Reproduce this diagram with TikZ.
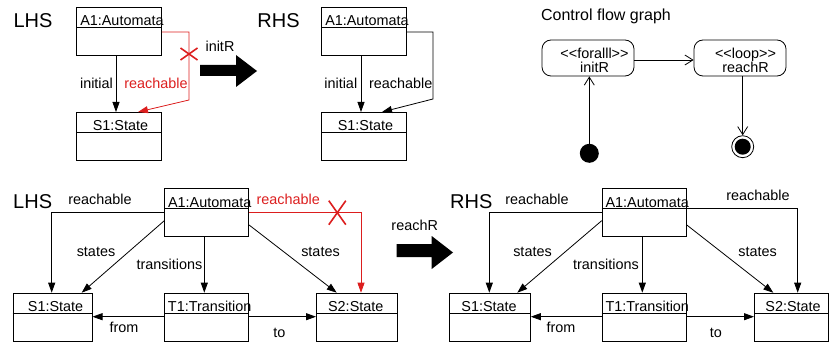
\documentclass[tikz,border=0pt]{standalone}
\usepackage{fontspec}
\newfontfamily\af{Liberation Sans}
\usetikzlibrary{arrows.meta}
\definecolor{xred}{RGB}{220,30,30}
\tikzset{
 obj/.style={draw, line width=0.8pt, minimum height=48pt, inner sep=0pt, anchor=north west},
 lbl/.style={font=\af\fontsize{14.4}{16}\selectfont, inner sep=0pt, text height=10.3pt, text depth=0pt},
 bigl/.style={font=\af\fontsize{20}{24}\selectfont, inner sep=0pt, text height=14.3pt, text depth=0pt},
 arr/.style={line width=0.8pt, -{Triangle[length=10pt,width=7pt]}},
 rarr/.style={arr, draw=xred},
 oarr/.style={line width=0.8pt, -{Straight Barb[length=8pt,width=10pt]}},
 cross/.style={draw=xred, line width=1.6pt},
 cfg/.style={draw, rounded corners=9pt, line width=0.8pt, minimum width=92pt, minimum height=36pt, inner sep=0pt},
}
\newcommand\objbox[5]{%
  \node[obj, minimum width=#3] (#1) at (#2) {};
  \draw[line width=0.8pt] ([yshift=-20.5pt]#1.north west) -- ([yshift=-20.5pt]#1.north east);
  \node[lbl, anchor=base] (#1t) at ([xshift=#5, yshift=-18.7pt]#1.north) {#4};
}
\begin{document}
\begin{tikzpicture}[x=1pt,y=-1pt]
\useasboundingbox (0,0) rectangle (829,342);
% ---------- top LHS
\node[bigl] (tlhs) at (33,20) {LHS};
\objbox{tA}{76,7}{85pt}{A1:Automata}{3pt}
\objbox{tS}{76,112}{85pt}{S1:State}{1.5pt}
\draw[arr] (tA.south -| 116,0) -- (tS.north -| 116,0);
\node[lbl] (tinit) at (96.5,83) {initial};
\draw[rarr] (tA.east |- 0,32) -- (189,32) -- (189,100) -- (tS.north -| 138,0);
\node[lbl, text=xred] (treach) at (156,83) {reachable};
\draw[cross] (180.5,48) -- (197.5,60);
\draw[cross] (180.5,60) -- (197.5,48);
% big arrow top
\fill (200,65) -- (236,65) -- (236,55) -- (257,71) -- (236,87) -- (236,76) -- (200,76) -- cycle;
\node[lbl] (tinitR) at (220,46.7) {initR};
% ---------- top RHS
\node[bigl] (trhs) at (278.5,20) {RHS};
\objbox{rA}{321,7}{85pt}{A1:Automata}{3pt}
\objbox{rS}{321,112}{85pt}{S1:State}{1.5pt}
\draw[arr] (rA.south -| 361,0) -- (rS.north -| 361,0);
\node[lbl] (rinit) at (340.8,83) {initial};
\draw[arr] (rA.east |- 0,32) -- (433,32) -- (433,99) -- (rS.north -| 382,0);
\node[lbl] (rreach) at (400.8,83) {reachable};
% ---------- control flow graph
\node[lbl, font=\af\fontsize{16}{18}\selectfont, text height=11.4pt] (cfgt) at (606,15) {Control flow graph};
\node[cfg] (cI) at (588,58) {};
\node[lbl] (cIa) at (594.5,53) {<<foralll>>};
\node[lbl] (cIb) at (594.5,67) {initR};
\node[cfg] (cR) at (740,58) {};
\node[lbl] (cRa) at (745.5,53) {<<loop>>};
\node[lbl] (cRb) at (745.5,67) {reachR};
\draw[oarr] (cI.east |- 0,60) -- (cR.west |- 0,60);
\node[circle, fill, minimum size=19pt, inner sep=0pt] (ini) at (589.3,153.3) {};
\draw[oarr] (ini.north) -- (cI.south -| ini);
\node[circle, draw, line width=0.8pt, minimum size=22pt, inner sep=0pt] (fin) at (742.7,146.7) {};
\fill (fin.center) circle (8pt);
\draw[oarr] (cR.south -| fin) -- (fin.north);
% ---------- bottom LHS
\node[bigl] (blhs) at (32.7,201.7) {LHS};
\objbox{bA}{164.3,188.3}{84pt}{A1:Automata}{3pt}
\objbox{bS1}{12.7,292.7}{79pt}{S1:State}{3pt}
\objbox{bT}{164.3,292.7}{84pt}{T1:Transition}{3pt}
\objbox{bS2}{316,292.7}{80.7pt}{S2:State}{-1pt}
\draw[arr] (bA.west |- 0,212.7) -| (bS1.north -| 51.7,0);
\node[lbl] (bl1) at (100,199.3) {reachable};
\draw[arr] (bA.west |- 0,220.7) -- (bS1.north -| 81.7,0);
\node[lbl] (bl2) at (96,251.7) {states};
\draw[arr] (bA.south -| 204.3,0) -- (bT.north -| 204.3,0);
\node[lbl] (bl3) at (169.5,264.3) {transitions};
\draw[arr] (bA.east |- 0,225) -- (bS2.north -| 336.7,0);
\node[lbl] (bl4) at (320.5,251.7) {states};
\draw[rarr] (bA.east |- 0,212.7) -| (bS2.north -| 361,0);
\node[lbl, text=xred] (bl5) at (288.3,199.3) {reachable};
\draw[cross] (328.8,200.7) -- (345.8,224.7);
\draw[cross] (328.8,224.7) -- (345.8,200.7);
\draw[arr] (bT.west |- 0,316.7) -- (bS1.east |- 0,316.7);
\node[lbl] (bl6) at (124,327.5) {from};
\draw[arr] (bT.east |- 0,316.7) -- (bS2.west |- 0,316.7);
\node[lbl] (bl7) at (279.3,332) {to};
% big arrow bottom
\fill (396.7,244) -- (431.7,244) -- (431.7,236) -- (453,252.5) -- (431.7,269) -- (431.7,257) -- (396.7,257) -- cycle;
\node[lbl] (breachR) at (414.7,225) {reachR};
% ---------- bottom RHS
\node[bigl] (brhs) at (471.3,201.7) {RHS};
\objbox{cA}{601.7,188.3}{84.3pt}{A1:Automata}{3pt}
\objbox{cS1}{449.3,292.7}{80.7pt}{S1:State}{-1pt}
\objbox{cT}{601.7,292.7}{84.3pt}{T1:Transition}{3pt}
\objbox{cS2}{754,292.7}{74pt}{S2:State}{1.7pt}
\draw[arr] (cA.west |- 0,212.7) -| (cS1.north -| 489.3,0);
\node[lbl] (cl1) at (537,199.3) {reachable};
\draw[arr] (cA.west |- 0,220.7) -- (cS1.north -| 517.3,0);
\node[lbl] (cl2) at (532.5,251.7) {states};
\draw[arr] (cA.south -| 642.3,0) -- (cT.north -| 642.3,0);
\node[lbl] (cl3) at (606,264.3) {transitions};
\draw[arr] (cA.east |- 0,225) -- (cS2.north -| 773.3,0);
\node[lbl] (cl4) at (757.5,251.7) {states};
\draw[arr] (cA.east |- 0,208.3) -| (cS2.north -| 797.7,0);
\node[lbl] (cl5) at (758,195) {reachable};
\draw[arr] (cT.west |- 0,316.7) -- (cS1.east |- 0,316.7);
\node[lbl] (cl6) at (561,327.5) {from};
\draw[arr] (cT.east |- 0,316.7) -- (cS2.west |- 0,316.7);
\node[lbl] (cl7) at (715.8,332) {to};
\end{tikzpicture}
\end{document}
